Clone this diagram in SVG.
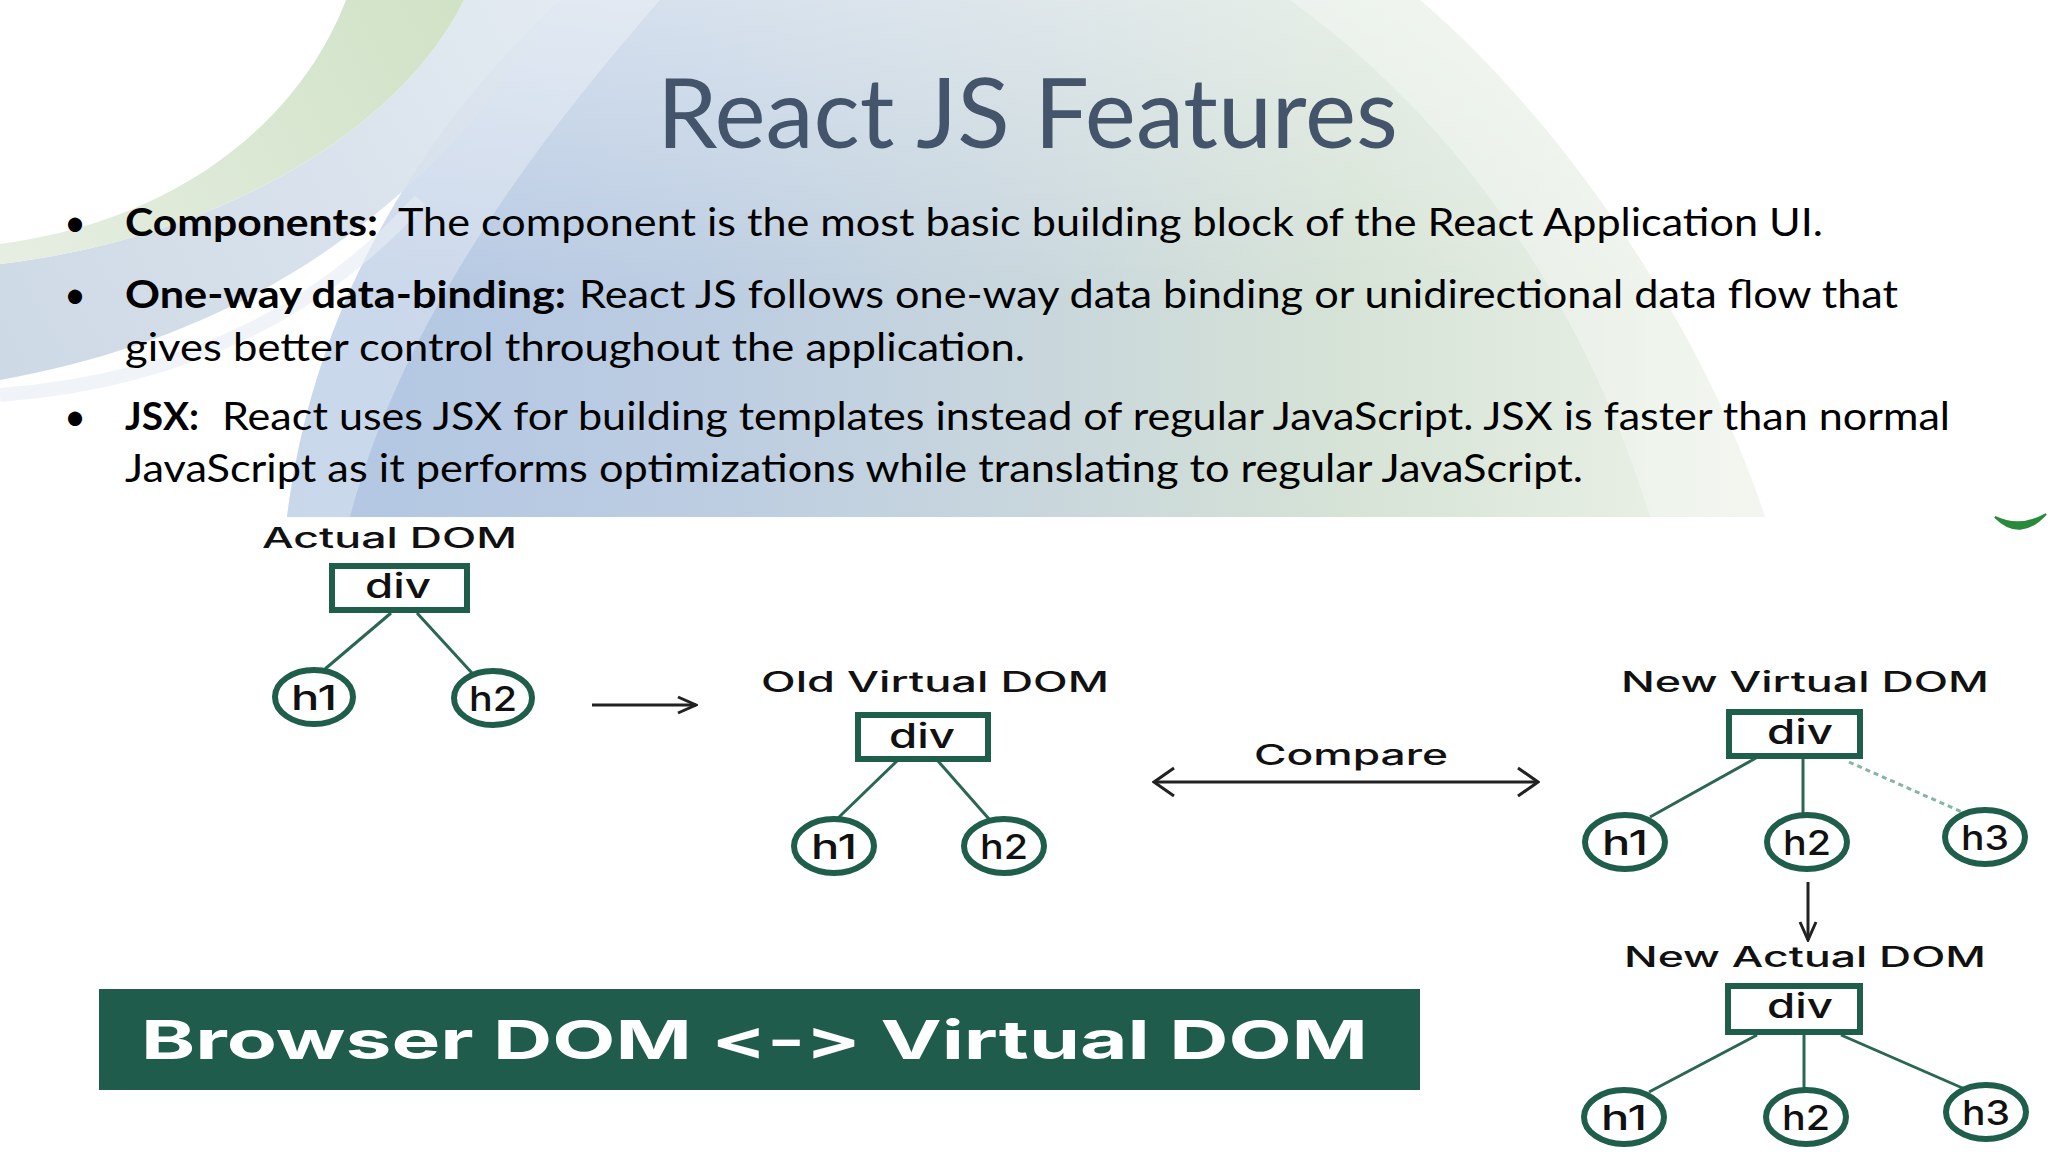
<svg xmlns="http://www.w3.org/2000/svg" width="2048" height="1152" viewBox="0 0 2048 1152">
  <defs>
    <linearGradient id="mainGrad" gradientUnits="userSpaceOnUse" x1="287" y1="0" x2="1765" y2="0">
      <stop offset="0" stop-color="#b2c6e3"/>
      <stop offset="0.28" stop-color="#bccde2"/>
      <stop offset="0.52" stop-color="#c9d7dc"/>
      <stop offset="0.72" stop-color="#d6e3d6"/>
      <stop offset="1" stop-color="#eef3ea"/>
    </linearGradient>
    <linearGradient id="topFade" gradientUnits="userSpaceOnUse" x1="0" y1="0" x2="0" y2="300">
      <stop offset="0" stop-color="#ffffff" stop-opacity="0.4"/>
      <stop offset="1" stop-color="#ffffff" stop-opacity="0"/>
    </linearGradient>
    <linearGradient id="greenBand" gradientUnits="userSpaceOnUse" x1="0" y1="250" x2="464" y2="0">
      <stop offset="0" stop-color="#e6eee2"/>
      <stop offset="1" stop-color="#d0e2c6"/>
    </linearGradient>
    <linearGradient id="blueBand" gradientUnits="userSpaceOnUse" x1="0" y1="320" x2="560" y2="0">
      <stop offset="0" stop-color="#c8d5e3"/>
      <stop offset="1" stop-color="#e0e8f0"/>
    </linearGradient>
    <marker id="chevBig" viewBox="0 0 24 32" refX="22" refY="16" markerWidth="24" markerHeight="32" markerUnits="userSpaceOnUse" orient="auto-start-reverse">
      <path d="M2,2 L22,16 L2,30" fill="none" stroke="#222" stroke-width="3"/>
    </marker>
    <marker id="chevSmall" viewBox="0 0 22 20" refX="20" refY="10" markerWidth="22" markerHeight="20" markerUnits="userSpaceOnUse" orient="auto">
      <path d="M2,2 L20,10 L2,18" fill="none" stroke="#222" stroke-width="3"/>
    </marker>
    <style>
      .title { font-family: Lato, "Open Sans", sans-serif; font-size: 97px; fill: #44546a; }
      .body { font-family: Lato, "Open Sans", sans-serif; font-size: 38px; fill: #000; }
      .bold { font-weight: 700; }
      .lbl { font-family: Inter, "DejaVu Sans", sans-serif; font-size: 28px; font-weight: 500; fill: #111; }
      .ntxt { font-family: Inter, "DejaVu Sans", sans-serif; font-size: 34px; font-weight: 500; fill: #111; text-anchor: middle; }
      .box { fill: #ffffff; stroke: #1f5e4b; stroke-width: 6; }
      .edge { stroke: #2a6652; stroke-width: 3; fill: none; }
      .dash { stroke: #86b5a2; stroke-width: 3; stroke-dasharray: 5 4; fill: none; }
      .arrow { stroke: #222; stroke-width: 3; fill: none; }
      .banner-txt { font-family: Inter, "DejaVu Sans", sans-serif; font-size: 54px; font-weight: 700; fill: #ffffff; font-variant-ligatures: none; font-feature-settings: "calt" 0, "liga" 0; }
    </style>
  </defs>

  <!-- background -->
  <rect x="0" y="0" width="2048" height="1152" fill="#ffffff"/>
  <path d="M560,0 L1420,0 C1560,120 1700,320 1765,517 L287,517 C310,330 400,150 560,0 Z" fill="url(#mainGrad)"/>
  <path d="M560,0 L1420,0 C1560,120 1700,320 1765,517 L287,517 C310,330 400,150 560,0 Z" fill="url(#topFade)"/>
  <path d="M1290,0 L1420,0 C1560,120 1700,320 1765,517 L1650,517 C1590,320 1470,130 1290,0 Z" fill="#ffffff" opacity="0.3"/>
  <path d="M560,0 L660,0 C520,160 400,330 350,517 L287,517 C310,330 400,150 560,0 Z" fill="#ffffff" opacity="0.3"/>
  <path d="M464,0 L560,0 C450,180 280,330 0,380 L0,264 C220,238 400,130 464,0 Z" fill="url(#blueBand)" opacity="0.9"/>
  <path d="M346,0 L464,0 C400,130 220,238 0,264 L0,244 C180,220 300,120 346,0 Z" fill="url(#greenBand)"/>
  <path d="M0,395 C200,380 330,300 420,200" fill="none" stroke="#e6edf4" stroke-width="14" opacity="0.6"/>

  <!-- title and bullets -->
  <text class="title" x="657" y="148" textLength="741" lengthAdjust="spacingAndGlyphs">React JS Features</text>

  <g id="bullets">
    <text class="body" x="75" y="236" text-anchor="middle">•</text>
    <text class="body bold" x="125" y="236" textLength="253" lengthAdjust="spacingAndGlyphs">Components:</text>
    <text class="body" x="398" y="236" textLength="1425" lengthAdjust="spacingAndGlyphs">The component is the most basic building block of the React Application UI.</text>

    <text class="body" x="75" y="308" text-anchor="middle">•</text>
    <text class="body bold" x="125" y="308" textLength="441" lengthAdjust="spacingAndGlyphs">One-way data-binding:</text>
    <text class="body" x="579" y="308" textLength="1319" lengthAdjust="spacingAndGlyphs">React JS follows one-way data binding or unidirectional data flow that</text>
    <text class="body" x="125" y="361" textLength="900" lengthAdjust="spacingAndGlyphs">gives better control throughout the application.</text>

    <text class="body" x="75" y="430" text-anchor="middle">•</text>
    <text class="body bold" x="125" y="430" textLength="74" lengthAdjust="spacingAndGlyphs">JSX:</text>
    <text class="body" x="222" y="430" textLength="1728" lengthAdjust="spacingAndGlyphs">React uses JSX for building templates instead of regular JavaScript. JSX is faster than normal</text>
    <text class="body" x="125" y="482" textLength="1458" lengthAdjust="spacingAndGlyphs">JavaScript as it performs optimizations while translating to regular JavaScript.</text>
  </g>

  <!-- diagram area -->
  <rect x="0" y="517" width="2048" height="635" fill="#ffffff"/>
  <path d="M1995,517 Q2020,542 2046,514 Q2020,529 1995,517 Z" fill="#2a8a3c" stroke="#2a8a3c" stroke-width="2"/>

  <!-- labels -->
  <g id="labels">
    <text class="lbl" x="262" y="548" textLength="255" lengthAdjust="spacingAndGlyphs">Actual DOM</text>
    <text class="lbl" x="761" y="692" textLength="348" lengthAdjust="spacingAndGlyphs">Old Virtual DOM</text>
    <text class="lbl" x="1254" y="765" textLength="194" lengthAdjust="spacingAndGlyphs">Compare</text>
    <text class="lbl" x="1621" y="692" textLength="368" lengthAdjust="spacingAndGlyphs">New Virtual DOM</text>
    <text class="lbl" x="1624" y="967" textLength="362" lengthAdjust="spacingAndGlyphs">New Actual DOM</text>
  </g>

  <!-- connectors -->
  <g id="connectors">
    <line class="edge" x1="391" y1="613" x2="325" y2="669"/>
    <line class="edge" x1="417" y1="613" x2="472" y2="673"/>
    <line class="edge" x1="897" y1="761" x2="837" y2="819"/>
    <line class="edge" x1="938" y1="761" x2="989" y2="819"/>
    <line class="edge" x1="1756" y1="758" x2="1650" y2="817"/>
    <line class="edge" x1="1803" y1="758" x2="1803" y2="815"/>
    <line class="dash" x1="1849" y1="762" x2="1962" y2="812"/>
    <line class="edge" x1="1757" y1="1035" x2="1649" y2="1092"/>
    <line class="edge" x1="1804" y1="1035" x2="1804" y2="1090"/>
    <line class="edge" x1="1841" y1="1035" x2="1967" y2="1090"/>
    <line class="arrow" x1="592" y1="705" x2="696" y2="705" marker-end="url(#chevSmall)"/>
    <line class="arrow" x1="1154" y1="782" x2="1538" y2="782" marker-start="url(#chevBig)" marker-end="url(#chevBig)"/>
    <line class="arrow" x1="1808" y1="882" x2="1808" y2="940" marker-end="url(#chevSmall)"/>
  </g>

  <!-- Actual DOM tree -->
  <g id="actual-div"><rect class="box" x="332" y="566" width="135" height="44"/><text class="ntxt" x="398" y="598" textLength="66" lengthAdjust="spacingAndGlyphs">div</text></g>
  <g id="actual-h1"><ellipse class="box" cx="314" cy="697" rx="39" ry="27"/><text class="ntxt" x="314" y="710" textLength="46" lengthAdjust="spacingAndGlyphs">h1</text></g>
  <g id="actual-h2"><ellipse class="box" cx="493" cy="698" rx="39" ry="27"/><text class="ntxt" x="493" y="711" textLength="48" lengthAdjust="spacingAndGlyphs">h2</text></g>

  <!-- Old Virtual DOM tree -->
  <g id="old-div"><rect class="box" x="858" y="715" width="130" height="44"/><text class="ntxt" x="922" y="748" textLength="66" lengthAdjust="spacingAndGlyphs">div</text></g>
  <g id="old-h1"><ellipse class="box" cx="834" cy="846" rx="40" ry="27"/><text class="ntxt" x="834" y="859" textLength="46" lengthAdjust="spacingAndGlyphs">h1</text></g>
  <g id="old-h2"><ellipse class="box" cx="1004" cy="846" rx="40" ry="27"/><text class="ntxt" x="1004" y="859" textLength="48" lengthAdjust="spacingAndGlyphs">h2</text></g>

  <!-- New Virtual DOM tree -->
  <g id="newv-div"><rect class="box" x="1729" y="712" width="131" height="44"/><text class="ntxt" x="1800" y="744" textLength="66" lengthAdjust="spacingAndGlyphs">div</text></g>
  <g id="newv-h1"><ellipse class="box" cx="1625" cy="842" rx="40" ry="27"/><text class="ntxt" x="1625" y="855" textLength="46" lengthAdjust="spacingAndGlyphs">h1</text></g>
  <g id="newv-h2"><ellipse class="box" cx="1807" cy="842" rx="40" ry="27"/><text class="ntxt" x="1807" y="855" textLength="48" lengthAdjust="spacingAndGlyphs">h2</text></g>
  <g id="newv-h3"><ellipse class="box" cx="1985" cy="837" rx="40" ry="27"/><text class="ntxt" x="1985" y="850" textLength="48" lengthAdjust="spacingAndGlyphs">h3</text></g>

  <!-- New Actual DOM tree -->
  <g id="newa-div"><rect class="box" x="1728" y="986" width="132" height="46"/><text class="ntxt" x="1800" y="1018" textLength="66" lengthAdjust="spacingAndGlyphs">div</text></g>
  <g id="newa-h1"><ellipse class="box" cx="1624" cy="1117" rx="40" ry="27"/><text class="ntxt" x="1624" y="1130" textLength="46" lengthAdjust="spacingAndGlyphs">h1</text></g>
  <g id="newa-h2"><ellipse class="box" cx="1806" cy="1117" rx="40" ry="27"/><text class="ntxt" x="1806" y="1130" textLength="48" lengthAdjust="spacingAndGlyphs">h2</text></g>
  <g id="newa-h3"><ellipse class="box" cx="1986" cy="1112" rx="40" ry="27"/><text class="ntxt" x="1986" y="1125" textLength="48" lengthAdjust="spacingAndGlyphs">h3</text></g>

  <!-- banner -->
  <g id="banner">
    <rect x="99" y="989" width="1321" height="101" fill="#1f5c4c"/>
    <text class="banner-txt" x="141" y="1059" textLength="1227" lengthAdjust="spacingAndGlyphs">Browser DOM &lt;-&gt; Virtual DOM</text>
  </g>
</svg>
